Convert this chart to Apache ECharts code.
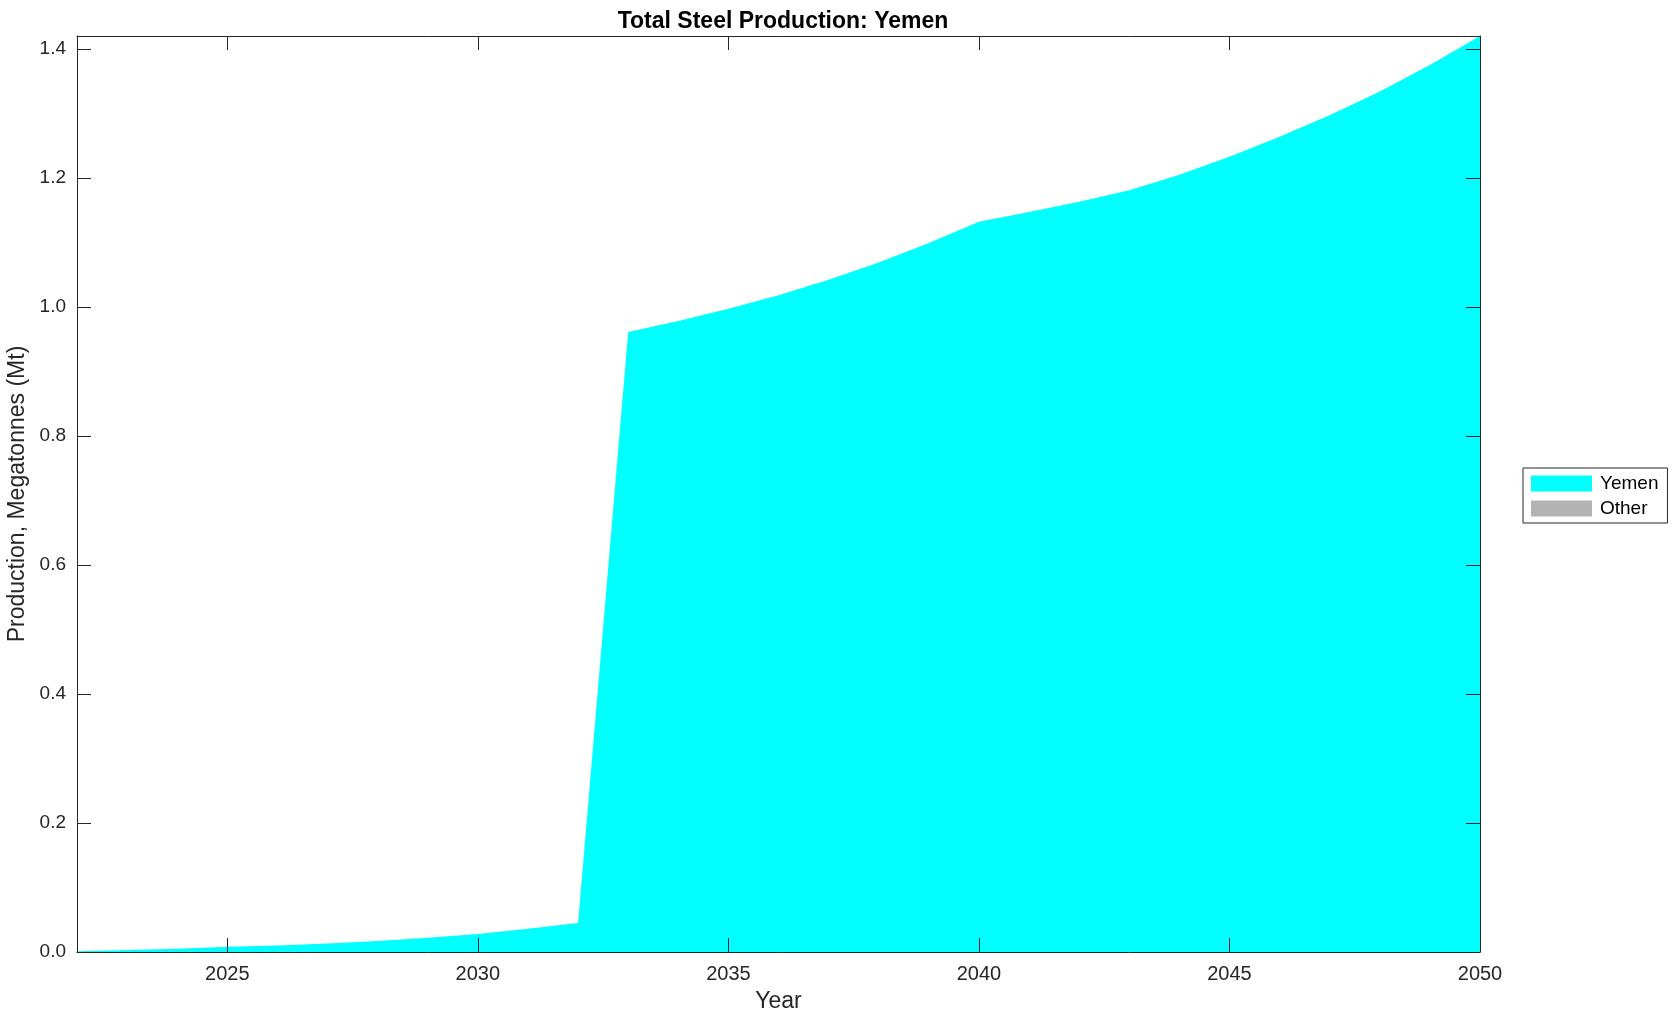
<!DOCTYPE html>
<html>
<head>
<meta charset="utf-8">
<script src="https://cdn.jsdelivr.net/npm/echarts@6/dist/echarts.min.js"></script>
<style>html,body{margin:0;padding:0;background:#fff}#c{width:1678px;height:1021px}</style>
</head>
<body>
<div id="c"></div>
<script>
const years = [2022,2023,2024,2025,2026,2027,2028,2029,2030,2031,2032,2033,2034,2035,2036,2037,2038,2039,2040,2041,2042,2043,2044,2045,2046,2047,2048,2049,2050];
const yemen = [0.001,0.003,0.005,0.008,0.010,0.013,0.017,0.022,0.028,0.036,0.045,0.961,0.978,0.997,1.018,1.042,1.069,1.099,1.132,1.147,1.163,1.181,1.205,1.233,1.264,1.297,1.334,1.375,1.420];
const other = [0,0,0,0,0,0,0,0,0,0,0,0,0,0,0,0,0,0,0,0,0,0,0,0,0,0,0,0,0];
const xTicks = [2025,2030,2035,2040,2045,2050];
const yTicks = [0,0.2,0.4,0.6,0.8,1.0,1.2,1.4];

const FONT = '"Liberation Sans", Arial, Helvetica, sans-serif';
const AX = '#262626';
const chart = echarts.init(document.getElementById('c'), null, {renderer:'canvas'});
const axLine = {show:true, onZero:false, lineStyle:{color:AX, width:1}};
const tick = {show:true, inside:true, length:14, lineStyle:{color:AX, width:1}};
chart.setOption({
  animation:false,
  backgroundColor:'#fff',
  title:{text:'Total Steel Production: Yemen', left:778, textAlign:'center', top:5,
    textStyle:{fontFamily:FONT, fontWeight:'bold', fontSize:23, color:'#000'}},
  legend:{orient:'vertical', left:1523, top:468, itemWidth:61, itemHeight:16, itemGap:6,
    padding:[6,9,5,8], borderColor:AX, borderWidth:1, backgroundColor:'#fff',
    textStyle:{fontFamily:FONT, fontSize:19, color:'#000', padding:[0,0,0,3]},
    icon:'rect', data:['Yemen','Other']},
  grid:{left:77, right:198, top:36, bottom:69, containLabel:false, outerBoundsMode:'none'},
  xAxis:[{type:'value', min:2022, max:2050, name:'Year', nameLocation:'middle', nameGap:38, z:5,
    nameTextStyle:{fontFamily:FONT, fontSize:23, color:AX},
    axisLine:axLine, axisTick:Object.assign({customValues:xTicks}, tick),
    axisLabel:{customValues:xTicks, margin:12, fontFamily:FONT, fontSize:20, color:AX, formatter:v=>String(v)},
    splitLine:{show:false}},
   {type:'value', position:'top', min:2022, max:2050, z:5,
    axisLine:axLine, axisTick:Object.assign({customValues:xTicks}, tick),
    axisLabel:{show:false}, splitLine:{show:false}}],
  yAxis:[{type:'value', min:0, max:1.42, name:'Production, Megatonnes (Mt)', nameLocation:'middle', nameGap:41, z:5,
    nameTextStyle:{fontFamily:FONT, fontSize:23, color:AX},
    axisLine:axLine, axisTick:Object.assign({customValues:yTicks}, tick),
    axisLabel:{customValues:yTicks, margin:11, fontFamily:FONT, fontSize:19, color:AX, formatter:v=>v.toFixed(1)},
    splitLine:{show:false}},
   {type:'value', position:'right', min:0, max:1.42, z:5,
    axisLine:axLine, axisTick:Object.assign({customValues:yTicks}, tick),
    axisLabel:{show:false}, splitLine:{show:false}}],
  series:[
    {name:'Yemen', type:'line', stack:'t', data:years.map((y,i)=>[y,yemen[i]]), showSymbol:false,
     lineStyle:{width:0}, areaStyle:{color:'#00ffff', opacity:1}, itemStyle:{color:'#00ffff'}, z:2},
    {name:'Other', type:'line', stack:'t', data:years.map((y,i)=>[y,other[i]]), showSymbol:false,
     lineStyle:{width:0}, areaStyle:{color:'#b3b3b3', opacity:1}, itemStyle:{color:'#b3b3b3'}, z:2}
  ]
});
</script>
</body>
</html>
